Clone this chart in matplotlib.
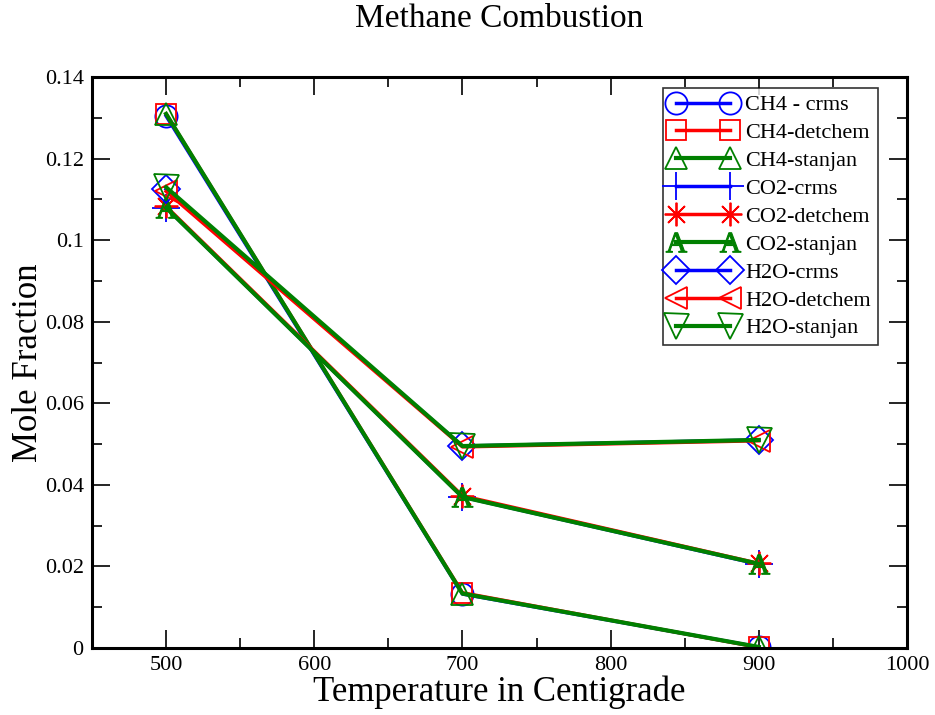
import matplotlib
matplotlib.use('Agg')
import matplotlib.pyplot as plt
from matplotlib.ticker import MultipleLocator, FuncFormatter

plt.rcParams['font.family'] = ['Liberation Serif', 'DejaVu Serif']
plt.rcParams['mathtext.fontset'] = 'custom'
plt.rcParams['mathtext.rm'] = 'Liberation Serif'

# temperatures (x) and mole fractions
temps = [500, 700, 900]

ch4_crms = [0.1305, 0.0132, 0.0002]
ch4_detchem = [0.1310, 0.0135, 0.0001]
ch4_stanjan = [0.1310, 0.0133, 0.0002]

co2_crms = [0.1080, 0.0370, 0.0205]
co2_detchem = [0.1083, 0.0373, 0.0207]
co2_stanjan = [0.1080, 0.0370, 0.0206]

h2o_crms = [0.1125, 0.0495, 0.0510]
h2o_detchem = [0.1120, 0.0493, 0.0508]
h2o_stanjan = [0.1130, 0.0495, 0.0510]

labels = ['CH4 - crms', 'CH4-detchem', 'CH4-stanjan',
          'CO2-crms', 'CO2-detchem', 'CO2-stanjan',
          'H2O-crms', 'H2O-detchem', 'H2O-stanjan']
series = [ch4_crms, ch4_detchem, ch4_stanjan,
          co2_crms, co2_detchem, co2_stanjan,
          h2o_crms, h2o_detchem, h2o_stanjan]
colors = ['blue', 'red', 'green'] * 3
markers = ['o', 's', '^', '+', (8, 2, 0), r'$\mathrm{A}$', 'D', '<', 'v']
msizes = [16, 15, 16, 20, 17, 15, 14, 16, 18]

fig = plt.figure(figsize=(9.35, 7.15), dpi=100)
ax = fig.add_axes([0.0984, 0.094, 0.8716, 0.798])

for vals, lab, c, m, ms in zip(series, labels, colors, markers, msizes):
    ax.plot(temps, vals, color=c, marker=m, markersize=ms,
            markerfacecolor=c if m == r'$\mathrm{A}$' else 'none',
            markeredgecolor=c, markeredgewidth=1.3 if m != r'$\mathrm{A}$' else 0.8,
            linewidth=3 if c == 'green' else 2.5, label=lab)

ax.set_xlim(450, 1000)
ax.set_ylim(0, 0.14)
ax.xaxis.set_major_locator(MultipleLocator(100))
ax.xaxis.set_minor_locator(MultipleLocator(50))
ax.yaxis.set_major_locator(MultipleLocator(0.02))
ax.yaxis.set_minor_locator(MultipleLocator(0.01))
ax.yaxis.set_major_formatter(FuncFormatter(lambda v, p: '%g' % round(v, 4)))

ax.tick_params(which='both', direction='in', top=True, right=True, width=1.2, labelsize=16)
ax.tick_params(which='major', length=13, pad=6)
ax.tick_params(which='minor', length=7)
for sp in ax.spines.values():
    sp.set_linewidth(2.2)

ax.set_title('Methane Combustion', fontsize=24, pad=36)
ax.set_xlabel('Temperature in Centigrade', fontsize=25, labelpad=0)
ax.set_ylabel('Mole Fraction', fontsize=25, labelpad=0)

leg = ax.legend(loc='upper right', bbox_to_anchor=(0.964, 0.981), borderaxespad=0,
                numpoints=2, fontsize=16, frameon=True, fancybox=False, edgecolor='black',
                labelspacing=0.33, handlelength=3.0, borderpad=0.3, handletextpad=0.4,
                markerscale=1.0)
leg.get_frame().set_linewidth(1.2)

fig.savefig('out.png', dpi=100)
